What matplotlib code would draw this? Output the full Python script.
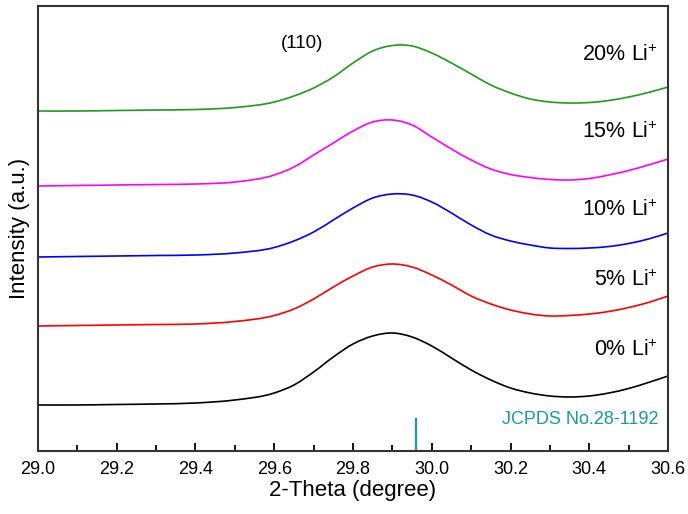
import matplotlib.pyplot as plt
import numpy as np
from matplotlib.path import Path
from matplotlib.patches import PathPatch

plt.rcParams['font.family'] = ['Liberation Sans', 'DejaVu Sans']
plt.rcParams['mathtext.default'] = 'regular'

# 2-theta grid (degree)
two_theta = [29.0, 29.1, 29.2, 29.3, 29.4, 29.5, 29.6, 29.65, 29.7, 29.75, 29.8,
             29.85, 29.9, 29.95, 30.0, 30.05, 30.1, 30.15, 30.2, 30.25, 30.3,
             30.35, 30.4, 30.45, 30.5, 30.55, 30.6]

# intensity (a.u., stacked offsets already included)
i_0 = [46, 46, 46.5, 47, 48, 51, 58, 66, 79, 94, 107, 115, 118, 114, 105, 93,
       81, 71, 63, 58, 55, 54, 55, 58, 62.5, 68.5, 75]
i_5 = [125, 125.5, 126, 126.5, 127, 129.5, 135.5, 142, 152, 164, 175, 184, 187,
       184, 176, 166, 155, 147, 141, 137, 135, 135.5, 137, 139.5, 143.5, 148.5, 155]
i_10 = [194, 194.5, 195, 195.5, 196, 198, 203.5, 210, 219, 231, 243, 253, 257,
        256, 249, 238, 226, 216, 210, 206, 203, 202.5, 203, 204.5, 207.5, 212, 218]
i_15 = [265, 265.5, 266, 266.5, 267, 269, 276, 284, 296, 308, 320, 329, 331,
        326, 314, 302, 291, 282, 276.5, 273.5, 271.5, 271, 272.5, 276, 280.5, 286, 292]
i_20 = [340, 340, 340.5, 341, 341.5, 343.5, 349, 355, 363, 374, 388, 400, 405.5,
        405, 398, 388, 377, 366, 358, 352, 349, 348, 348.5, 350.5, 354, 358.5, 364]

series = [i_0, i_5, i_10, i_15, i_20]
labels = ['0% Li$^{+}$', '5% Li$^{+}$', '10% Li$^{+}$', '15% Li$^{+}$', '20% Li$^{+}$']
colors = ['#000000', '#ff0000', '#0000ff', '#ff00ff', '#1f9a1f']
label_y = [101, 171, 241, 319, 396]

# reference pattern
jcpds_pos = [29.96]
jcpds_height = [33]


def smooth_path(x, y):
    # cubic Hermite through the points (slopes from neighbours), as Bezier path
    x = np.asarray(x, float)
    y = np.asarray(y, float)
    m = np.gradient(y, x)
    verts = [(x[0], y[0])]
    codes = [Path.MOVETO]
    for i in range(len(x) - 1):
        h = (x[i + 1] - x[i]) / 3
        verts += [(x[i] + h, y[i] + m[i] * h),
                  (x[i + 1] - h, y[i + 1] - m[i + 1] * h),
                  (x[i + 1], y[i + 1])]
        codes += [Path.CURVE4] * 3
    return Path(verts, codes)


fig = plt.figure(figsize=(6.88, 5.14), dpi=100)
ax = fig.add_axes([0.0552, 0.1226, 0.9158, 0.8657])

for y, lab, c, ly in zip(series, labels, colors, label_y):
    ax.add_patch(PathPatch(smooth_path(two_theta, y), facecolor='none',
                           edgecolor=c, lw=1.2))
    ax.text(30.575, ly, lab, fontsize=15.5, ha='right', va='center')

ax.vlines(jcpds_pos, 0, jcpds_height, color='#1a9a9a', lw=1.6)
ax.text(30.575, 31, 'JCPDS No.28-1192', color='#1a9a9a', fontsize=13,
        ha='right', va='center')
ax.text(29.67, 408, '(110)', fontsize=13.5, ha='center', va='center')

ax.set_xlim(29.0, 30.6)
ax.set_ylim(0, 445)
ax.set_xticks(np.arange(29.0, 30.61, 0.2))
ax.set_xticks(np.arange(29.1, 30.6, 0.2), minor=True)
ax.set_xticklabels(['%.1f' % t for t in np.arange(29.0, 30.61, 0.2)])
ax.set_yticks([])
ax.tick_params(axis='x', which='major', direction='in', length=6, width=1.3,
               labelsize=13, pad=7)
ax.tick_params(axis='x', which='minor', direction='in', length=4, width=1.3)
for s in ax.spines.values():
    s.set_linewidth(1.5)
    s.set_color('#333333')

ax.set_xlabel('2-Theta (degree)', fontsize=16, labelpad=2)
ax.set_ylabel('Intensity (a.u.)', fontsize=16, labelpad=6)

fig.savefig('out.png', dpi=100)
